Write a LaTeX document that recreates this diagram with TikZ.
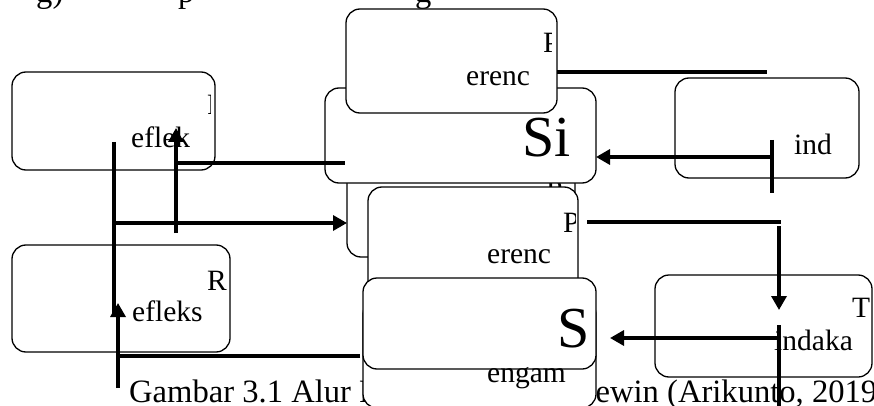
\documentclass[tikz,border=0pt]{standalone}
\usepackage{fontspec}
\setmainfont{Liberation Serif}
\usetikzlibrary{arrows.meta}
\begin{document}
\begin{tikzpicture}[x=1pt,y=-1pt,
  box/.style={draw, line width=1.3pt, rounded corners=14pt, fill=white, inner sep=0pt},
  lbl/.style={anchor=base west, inner sep=0pt, font=\fontsize{29.5}{34}\selectfont},
  captxt/.style={anchor=base west, inner sep=0pt, font=\fontsize{32.6}{36}\selectfont},
  big/.style={anchor=base west, inner sep=0pt, font=\fontsize{58}{64}\selectfont},
  conn/.style={line width=3.3pt},
  arr/.style={line width=3.3pt, -{Triangle[length=14pt,width=15pt]}}]
\useasboundingbox (0,0) rectangle (874,406);

% fragments of the line above (only descenders visible)
\node[captxt] (topa) at (36,3) {g)};
\node[captxt] (topb) at (178,3) {p};
\node[captxt] (topc) at (415,3) {g};

% side boxes
\node[box, minimum width=203pt, minimum height=98pt] (refA) at (113.5,121) {};
\node[box, minimum width=218pt, minimum height=107pt] (refB) at (121,298.5) {};
\node[box, minimum width=184pt, minimum height=100pt] (tindR) at (767,128) {};
\node[box, minimum width=217pt, minimum height=102pt] (tindB) at (763.5,326) {};

% stacked centre boxes
\node[box, minimum width=228pt, minimum height=107pt] (back5) at (461,203.5) {};
\node[lbl] (frag5) at (546,200) {P};
\node[box, minimum width=271pt, minimum height=95pt] (sik) at (460.5,135.5) {};
\node[box, minimum width=211pt, minimum height=104pt] (per1) at (451.5,61) {};
\node[box, minimum width=210pt, minimum height=113pt] (per2) at (473,243.5) {};

% caption (middle hidden by the boxes)
\node[captxt] (capl) at (129,402) {Gambar 3.1 Alur Penelitian};
\node[captxt] (capr) at (575.5,402) {Lewin (Arikunto, 2019)};

\node[box, minimum width=233pt, minimum height=108pt] (back7) at (479.5,354) {};
\node[box, minimum width=233pt, minimum height=91pt] (pengS) at (479.5,323.5) {};

% texts
\node[lbl] (tA) at (131,148) {eflek};
\begin{scope}
  \clip (200,85) rectangle (210.5,125);
  \node[lbl] (tAR) at (207,115) {R};
\end{scope}
\node[lbl] (tBR) at (207,290) {R};
\node[lbl] (tB) at (132,321) {efleks};
\begin{scope}
  \clip (535,25) rectangle (551,60);
  \node[lbl] (tP1) at (543,53) {P};
\end{scope}
\node[lbl] (tP1b) at (466,86) {erenc};
\node[big] (tSi) at (522.5,157) {Si};
\begin{scope}
  \clip (555,200) rectangle (575.5,240);
  \node[lbl] (tP2) at (563,232) {P};
\end{scope}
\node[lbl] (tP2b) at (487,263) {erenc};
\node[big] (tS) at (557.5,347) {S};
\node[lbl] (tE) at (487,382) {engam};
\node[lbl] (tInd) at (794,155) {ind};
\node[lbl] (tT) at (852,317) {T};
\node[lbl] (tIndaka) at (774,350) {indaka};

% connector end points
\coordinate (a1) at (557,72);   \coordinate (a2) at (767,72);
\coordinate (b1) at (772,140);  \coordinate (b2) at (772,193);
\coordinate (b3) at (772,157);  \coordinate (b4) at (596,157);
\coordinate (c1) at (587,222);  \coordinate (c2) at (780.5,222);
\coordinate (c3) at (779,226);  \coordinate (c4) at (779,310);
\coordinate (d1) at (779,325);  \coordinate (d2) at (779,410);
\coordinate (d3) at (779,338);  \coordinate (d4) at (610,338);
\coordinate (e1) at (360,356);  \coordinate (e2) at (116,356);
\coordinate (e3) at (118,388);  \coordinate (e4) at (118,303);
\coordinate (f1) at (114,142);  \coordinate (f2) at (114,317);
\coordinate (f3) at (114,223);  \coordinate (f4) at (347,223);
\coordinate (g1) at (176,233);  \coordinate (g2) at (176,128);
\coordinate (g3) at (176,163);  \coordinate (g4) at (345,163);

\draw[conn] (a1) -- (a2);
\draw[conn] (b1) -- (b2);
\draw[arr]  (b3) -- (b4);
\draw[conn] (c1) -- (c2);
\draw[arr]  (c3) -- (c4);
\draw[conn] (d1) -- (d2);
\draw[arr]  (d3) -- (d4);
\draw[conn] (e1) -- (e2);
\draw[arr]  (e3) -- (e4);
\draw[conn] (f1) -- (f2);
\draw[arr]  (f3) -- (f4);
\draw[arr]  (g1) -- (g2);
\draw[conn] (g3) -- (g4);
\end{tikzpicture}
\end{document}
